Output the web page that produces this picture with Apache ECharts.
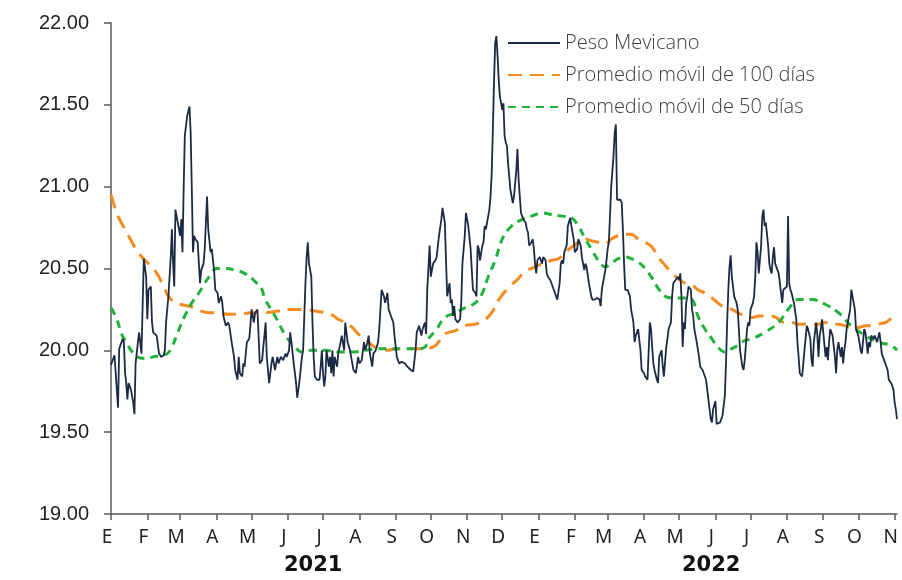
<!DOCTYPE html>
<html><head><meta charset="utf-8">
<script src="https://cdn.jsdelivr.net/npm/echarts@6/dist/echarts.min.js"></script>
<style>html,body{margin:0;padding:0;background:#fff}#c{width:902px;height:580px}</style>
</head><body><div id="c"></div>
<script>
// Meses (etiquetas del eje X) y años
const meses = ['E','F','M','A','M','J','J','A','S','O','N','D'];
const anios = ['2021','2022'];
const inicio = [2021, 0, 1];   // 1 de enero de 2021
const totalDias = 672;         // hasta el 3 de noviembre de 2022
const ejeY = {min: 19, max: 22, intervalo: 0.5};

const nombres = ['Peso Mevicano', 'Promedio móvil de 100 días', 'Promedio móvil de 50 días'];

// Peso mexicano (días desde el 1-ene-2021)
const pesoDias = [0,3,6,7,10,11,12,13,14,15,17,19,20,21,23,24,26,27,28,30,31,32,34,35,36,37,39,41,43,45,46,47,49,51,52,53,54,55,57,59,60,61,62,63,65,67,68,69,70,71,72,74,76,77,79,80,82,83,85,86,88,89,91,92,94,95,96,98,100,101,103,105,106,108,109,110,112,113,114,116,118,119,120,122,123,125,126,127,129,130,131,
132,133,135,137,138,140,142,143,145,147,149,150,152,153,154,156,158,159,161,163,164,166,167,168,169,171,172,173,174,176,178,179,180,181,182,183,184,186,187,188,189,190,191,193,194,196,197,199,200,202,204,205,207,209,211,212,214,216,217,219,220,221,223,224,226,228,229,231,233,234,236,237,239,241,242,244,246,248,249,251,253,254,256,258,260,261,263,265,266,268,
269,270,272,273,275,277,278,280,282,283,285,286,287,289,290,291,292,293,294,296,298,299,300,302,303,305,307,308,309,311,312,313,314,315,317,318,319,320,322,323,324,325,326,327,328,329,330,331,332,334,335,336,337,338,339,341,343,344,345,346,347,348,350,351,352,354,355,356,357,359,360,361,362,363,364,366,368,369,371,372,373,375,376,378,380,381,383,384,385,386,387,389,390,392,393,395,396,398,399,401,402,404,405,
406,408,410,411,413,415,417,418,419,421,422,423,424,425,426,427,429,430,431,432,433,435,436,437,438,439,441,443,444,446,447,448,450,452,453,455,456,458,460,461,462,463,464,466,467,468,470,471,472,474,475,476,478,479,480,482,484,485,486,487,488,489,490,491,492,493,495,496,497,498,500,502,503,505,506,508,509,511,512,513,514,516,517,518,520,521,522,524,525,526,527,528,529,530,531,532,534,535,536,537,539,540,541,
543,544,545,546,548,549,550,551,552,553,555,556,557,558,559,561,562,563,564,565,566,567,569,570,571,573,574,575,577,578,579,580,581,583,585,586,587,588,590,591,592,594,595,597,598,599,600,602,603,604,605,606,607,608,610,611,612,613,614,616,618,619,620,621,623,624,625,626,627,628,629,631,632,633,635,636,637,638,640,641,643,644,645,646,647,648,649,651,652,654,656,657,658,660,661,663,664,666,668,669,670,671];
const pesoValores = [19.91,19.97,19.65,20.01,20.07,20.05,19.86,19.80,19.70,19.80,19.76,19.68,19.61,19.92,20.05,20.11,19.98,20.27,20.56,20.45,20.19,20.37,20.39,20.17,20.11,20.12,20.09,19.98,19.96,19.97,20.00,20.17,20.33,20.57,20.74,20.53,20.39,20.86,20.78,20.70,20.80,20.60,20.98,21.31,21.43,21.49,21.33,20.98,20.60,20.70,20.68,20.66,20.41,20.49,20.53,20.62,20.94,20.74,20.60,20.62,20.49,20.37,20.35,20.29,20.33,20.29,20.21,20.15,20.17,20.15,20.05,19.96,19.88,19.82,19.96,19.86,19.84,19.92,19.90,20.05,20.07,20.15,20.25,20.17,20.23,20.25,20.09,19.92,19.94,20.02,20.09,
20.17,19.96,19.80,19.92,19.96,19.88,19.96,19.92,19.96,19.94,19.98,19.96,20.00,20.11,20.05,19.92,19.80,19.71,19.82,19.96,20.00,20.41,20.57,20.66,20.53,20.45,20.17,19.96,19.84,19.82,19.82,19.90,20.00,19.86,19.78,19.84,20.00,19.90,19.96,19.86,20.00,19.84,19.96,19.90,19.98,20.05,20.09,20.00,20.17,20.05,20.00,19.96,19.88,19.86,19.96,19.92,19.94,20.05,20.00,20.05,20.09,19.98,19.90,19.98,20.00,20.05,20.13,20.37,20.33,20.29,20.35,20.25,20.21,20.17,20.09,19.96,19.92,19.93,19.94,19.92,19.90,19.90,19.88,19.87,20.00,20.11,20.15,20.09,20.13,20.17,
20.10,20.37,20.64,20.45,20.53,20.55,20.57,20.70,20.80,20.87,20.78,20.55,20.33,20.41,20.29,20.31,20.21,20.27,20.19,20.17,20.19,20.29,20.53,20.70,20.84,20.76,20.62,20.49,20.37,20.35,20.33,20.64,20.62,20.55,20.64,20.66,20.76,20.74,20.82,20.86,20.94,21.08,21.35,21.65,21.88,21.92,21.80,21.65,21.55,21.47,21.51,21.31,21.27,21.25,21.14,20.98,20.90,20.94,21.02,21.10,21.23,21.04,20.84,20.82,20.80,20.78,20.74,20.72,20.64,20.66,20.68,20.62,20.53,20.47,20.55,20.57,20.53,20.57,20.55,20.47,20.45,20.43,20.41,20.37,20.33,20.31,20.41,20.53,20.55,20.53,20.60,20.64,20.76,20.81,20.76,20.68,20.60,20.62,20.68,20.64,20.57,20.49,20.53,
20.51,20.41,20.33,20.31,20.31,20.32,20.31,20.27,20.37,20.45,20.49,20.55,20.62,20.66,20.82,21.00,21.19,21.33,21.38,20.92,20.92,20.92,20.90,20.74,20.53,20.37,20.37,20.33,20.25,20.17,20.05,20.09,20.13,20.00,19.88,19.86,19.84,19.82,20.17,20.13,20.02,19.92,19.88,19.82,19.80,19.96,20.00,19.90,19.84,20.02,20.07,20.13,20.17,20.33,20.41,20.43,20.45,20.43,20.47,20.33,20.02,20.17,20.13,20.29,20.33,20.39,20.37,20.25,20.21,20.13,20.05,19.96,19.90,19.88,19.86,19.82,19.76,19.64,19.58,19.56,19.64,19.69,19.55,19.54,19.56,19.58,19.60,19.72,19.92,20.17,20.37,20.51,20.58,20.45,20.39,20.33,20.29,20.25,20.13,20.00,19.90,19.88,19.94,
20.13,20.17,20.15,20.25,20.29,20.33,20.45,20.66,20.60,20.47,20.64,20.82,20.86,20.76,20.78,20.64,20.53,20.49,20.47,20.57,20.63,20.53,20.49,20.47,20.41,20.29,20.37,20.37,20.39,20.82,20.41,20.37,20.35,20.29,20.19,20.05,19.96,19.86,19.84,19.84,20.00,20.15,20.13,20.07,19.94,19.90,20.05,20.17,20.09,19.96,20.09,20.13,20.19,20.19,19.96,20.02,19.94,20.05,20.13,20.09,19.96,19.86,20.00,20.05,19.96,20.02,19.92,20.00,20.05,20.13,20.17,20.25,20.37,20.38,20.25,20.13,20.13,20.09,20.00,19.98,20.13,20.11,20.05,19.98,20.05,20.02,20.09,20.07,20.09,20.05,20.11,20.05,19.98,19.94,19.94,19.88,19.82,19.80,19.76,19.68,19.64,19.58];

// Promedio móvil de 100 días
const mm100Dias = [0,6,12,18,23,29,35,40,45,49,55,60,66,72,77,83,92,100,109,120,131,143,154,166,174,183,188,194,200,206,211,217,223,228,234,245,257,268,277,285,294,302,311,318,325,331,339,348,353,362,368,376,382,388,393,399,405,410,416,422,427,433,439,444,450,456,462,467,473,479,484,490,496,501,507,513,518,524,530,535,541,547,553,558,564,570,575,581,587,592,598,604,610,615,621,627,632,638,644,649,655,661,666,671];
const mm100Valores = [20.95,20.82,20.74,20.66,20.60,20.55,20.51,20.46,20.39,20.33,20.29,20.28,20.27,20.26,20.24,20.23,20.23,20.22,20.22,20.23,20.23,20.24,20.25,20.25,20.24,20.23,20.22,20.19,20.17,20.14,20.10,20.07,20.03,20.01,20.00,20.01,20.01,20.01,20.03,20.10,20.12,20.15,20.16,20.18,20.23,20.31,20.38,20.44,20.48,20.51,20.53,20.55,20.56,20.60,20.63,20.66,20.68,20.67,20.66,20.65,20.68,20.70,20.71,20.71,20.68,20.66,20.63,20.57,20.52,20.47,20.44,20.41,20.40,20.37,20.35,20.32,20.29,20.26,20.25,20.23,20.21,20.20,20.21,20.21,20.21,20.19,20.17,20.17,20.16,20.16,20.16,20.16,20.17,20.16,20.16,20.15,20.14,20.14,20.15,20.15,20.16,20.17,20.19,20.18];

// Promedio móvil de 50 días
const mm50Dias = [0,5,9,13,18,22,29,36,43,48,52,57,63,69,75,80,86,90,97,106,114,123,129,131,140,149,157,163,171,183,194,206,217,228,240,251,262,268,271,277,285,294,302,311,317,322,328,334,342,351,359,368,376,385,393,399,405,410,416,422,427,433,439,444,450,456,462,467,473,479,484,490,496,501,507,513,518,524,530,535,541,547,558,570,578,587,598,610,621,632,644,655,666,671];
const mm50Valores = [20.26,20.19,20.10,20.05,19.99,19.96,19.95,19.96,19.97,19.98,20.02,20.11,20.21,20.29,20.35,20.41,20.47,20.50,20.50,20.49,20.47,20.42,20.37,20.32,20.21,20.09,20.02,19.99,20.00,20.00,19.99,19.99,20.00,20.01,20.01,20.01,20.01,20.02,20.07,20.12,20.20,20.23,20.26,20.29,20.35,20.45,20.55,20.68,20.76,20.80,20.82,20.84,20.83,20.82,20.81,20.76,20.68,20.62,20.55,20.51,20.53,20.56,20.57,20.56,20.54,20.50,20.44,20.38,20.33,20.32,20.32,20.32,20.31,20.21,20.13,20.07,20.02,19.99,20.01,20.03,20.06,20.07,20.11,20.17,20.25,20.31,20.31,20.28,20.23,20.15,20.09,20.05,20.03,20.00];

// Construcción de categorías diarias
const fechas = [];
for (let i = 0; i < totalDias; i++) {
  const d = new Date(Date.UTC(inicio[0], inicio[1], inicio[2] + i));
  const mm = String(d.getUTCMonth() + 1).padStart(2, '0');
  const dd = String(d.getUTCDate()).padStart(2, '0');
  fechas.push(d.getUTCFullYear() + '-' + mm + '-' + dd);
}
const pares = (dias, vals) => dias.map((d, i) => [d, vals[i]]);
const esInicioMes = (idx, val) => val.slice(8) === '01';

const chart = echarts.init(document.getElementById('c'), null, {renderer: 'canvas'});
chart.setOption({
  backgroundColor: '#ffffff',
  animation: false,
  grid: {left: 111, right: 5, top: 23, bottom: 66},
  legend: {
    orient: 'vertical', left: 505, top: 29,
    padding: [4, 8, 6, 2],
    backgroundColor: '#ffffff',
    itemWidth: 52, itemHeight: 14, itemGap: 12,
    itemStyle: {opacity: 0},
    textStyle: {fontFamily: 'Open Sans', fontSize: 20, fontWeight: 300, color: '#3c3c3c'},
    data: nombres
  },
  xAxis: {
    type: 'category', data: fechas, boundaryGap: false,
    axisLine: {lineStyle: {color: '#5a5a5a', width: 1.5}},
    axisTick: {show: true, interval: esInicioMes, length: 6, lineStyle: {color: '#5a5a5a', width: 1.5}},
    axisLabel: {
      interval: esInicioMes, margin: 14, fontFamily: 'Noto Sans', fontSize: 19, color: '#222',
      padding: [0, 8, 0, 0],
      formatter: v => meses[parseInt(v.slice(5, 7), 10) - 1]
    },
    splitLine: {show: false}
  },
  yAxis: {
    type: 'value', min: ejeY.min, max: ejeY.max, interval: ejeY.intervalo,
    axisLine: {show: true, lineStyle: {color: '#5a5a5a', width: 1.5}},
    axisTick: {show: true, length: 7, lineStyle: {color: '#5a5a5a', width: 1.5}},
    axisLabel: {margin: 22, fontFamily: 'Liberation Sans', fontSize: 20, color: '#222', formatter: v => v.toFixed(2)},
    splitLine: {show: false}
  },
  graphic: [
    {type: 'text', left: 284, top: 555, style: {text: anios[0], font: 'bold 21px "DejaVu Sans"', fill: '#111'}},
    {type: 'text', left: 682, top: 555, style: {text: anios[1], font: 'bold 21px "DejaVu Sans"', fill: '#111'}}
  ],
  series: [
    {name: nombres[0], type: 'line', symbol: 'none', z: 3,
     lineStyle: {color: '#1c2b45', width: 1.8}, itemStyle: {color: '#1c2b45'},
     data: pares(pesoDias, pesoValores)},
    {name: nombres[1], type: 'line', symbol: 'none', smooth: 0.4, z: 2,
     lineStyle: {color: '#f68b1f', width: 3, type: [14, 8]}, itemStyle: {color: '#f68b1f'},
     data: pares(mm100Dias, mm100Valores)},
    {name: nombres[2], type: 'line', symbol: 'none', smooth: 0.4, z: 2,
     lineStyle: {color: '#1fb33a', width: 3, type: [8, 6]}, itemStyle: {color: '#1fb33a'},
     data: pares(mm50Dias, mm50Valores)}
  ]
});
</script></body></html>
